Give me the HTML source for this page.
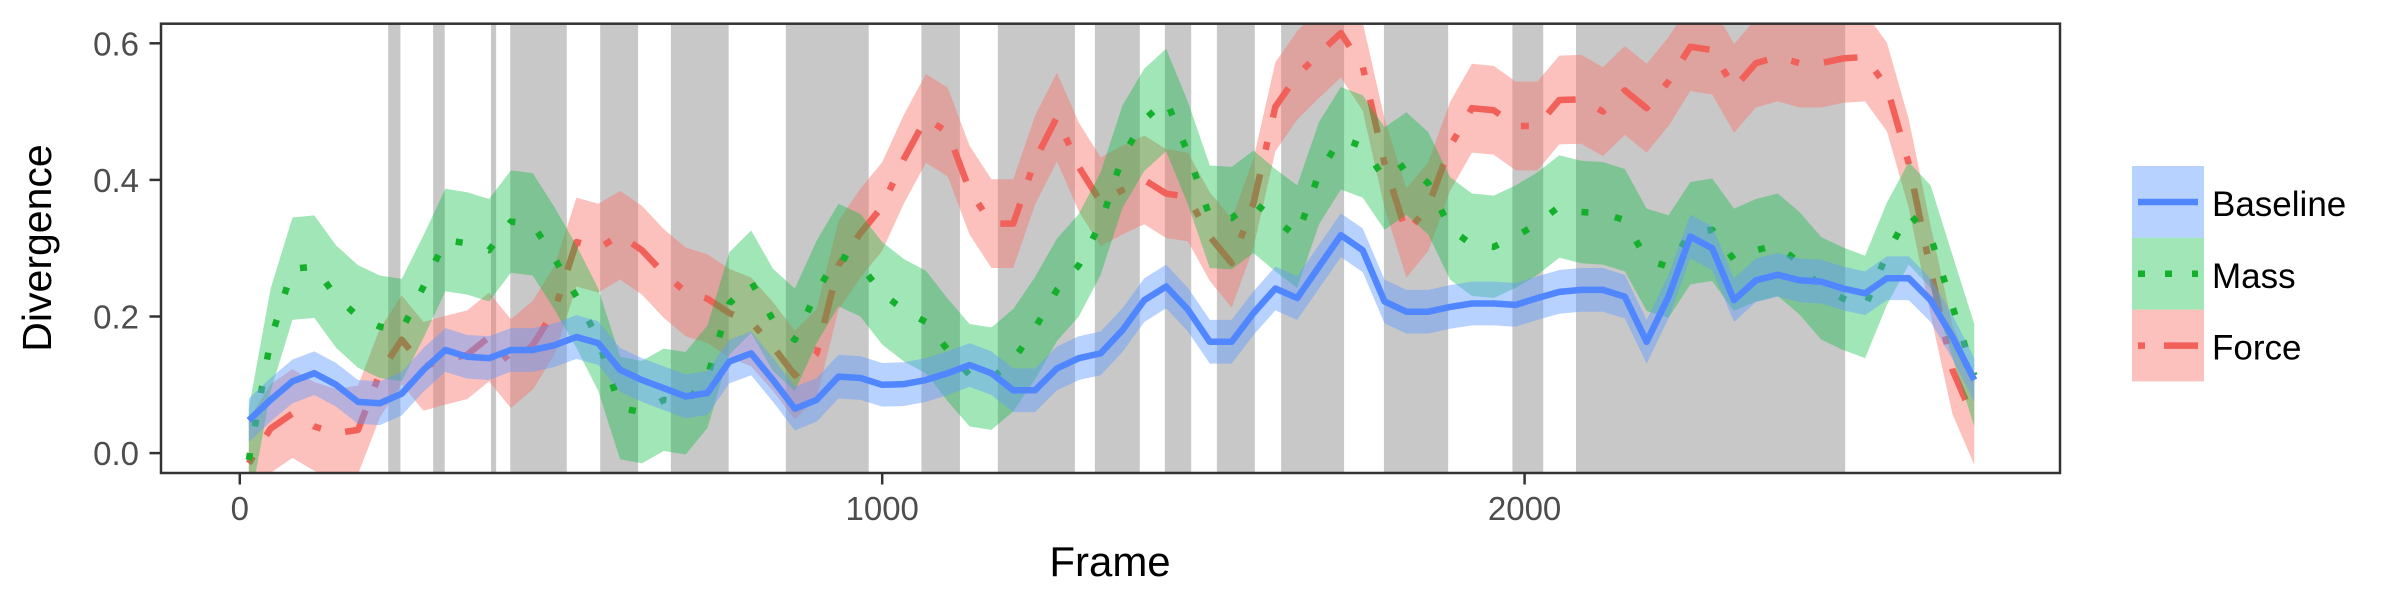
<!DOCTYPE html>
<html><head><meta charset="utf-8">
<style>
html,body{margin:0;padding:0;background:#fff;}
svg{display:block;font-family:"Liberation Sans",Arial,sans-serif;}
</style></head>
<body>
<svg id="chart" width="2400" height="600" viewBox="0 0 2400 600" xmlns="http://www.w3.org/2000/svg">
<defs><clipPath id="clip"><rect x="161" y="23.7" width="1899" height="449.3"/></clipPath></defs>
<rect x="0" y="0" width="2400" height="600" fill="#fff"/>
<g id="plot" clip-path="url(#clip)"></g>
<rect x="161" y="23.7" width="1899" height="449.3" fill="none" stroke="#333" stroke-width="2.5"/>
<g id="axes"></g>
<text x="1110" y="576" font-size="42" text-anchor="middle" fill="#000">Frame</text>
<text transform="translate(51,248) rotate(-90)" font-size="41" text-anchor="middle" fill="#000">Divergence</text>
<g id="legend"></g>
</svg>
<script>
const frames = [14,48,82,116,150,184,218,252,286,320,354,388,422,456,490,524,558,592,626,660,694,728,762,796,830,864,898,932,966,1000,1034,1068,1102,1136,1170,1204,1238,1272,1306,1340,1374,1408,1442,1476,1510,1544,1578,1612,1646,1680,1714,1748,1782,1816,1850,1884,1918,1952,1986,2020,2054,2088,2122,2156,2190,2224,2258,2292,2326,2360,2394,2428,2462,2496,2530,2564,2598,2632,2666,2700];
const baseline = [.048,.078,.105,.117,.100,.075,.073,.087,.122,.151,.141,.139,.151,.151,.158,.170,.161,.122,.107,.095,.083,
.088,.134,.146,.107,.065,.078,.112,.110,.100,.101,.107,.117,.129,.117,.092,.092,.124,.139,.146,.180,
.224,.244,.210,.163,.163,.205,.241,.227,.273,.319,.297,.222,.207,.207,.214,.219,.219,.217,.227,.236,
.239,.239,.229,.163,.229,.317,.300,.224,.253,.261,.253,.251,.241,.234,.256,.256,.224,.170,.107];
const mass = [-.01,.166,.27,.273,.229,.20,.185,.18,.244,.312,.307,.297,.339,.335,.285,.229,.166,.066,.06,.078,.073,
.112,.219,.251,.195,.166,.236,.29,.275,.234,.209,.192,.151,.114,.109,.136,.183,.239,.275,.336,.434,
.488,.517,.439,.346,.344,.368,.341,.317,.41,.461,.449,.402,.424,.395,.329,.305,.302,.317,.336,.361,
.353,.351,.341,.283,.273,.322,.327,.283,.297,.305,.278,.241,.226,.214,.292,.351,.317,.215,.114];
const force = [-.015,.036,.058,.039,.029,.034,.117,.166,.127,.136,.144,.170,.131,.158,.209,.309,.30,.319,.297,.263,.236,
.226,.205,.192,.156,.114,.146,.275,.322,.361,.431,.49,.47,.385,.336,.336,.429,.492,.419,.368,.385,
.40,.38,.375,.317,.278,.366,.507,.553,.585,.615,.566,.424,.322,.361,.449,.505,.502,.479,.479,.517,
.518,.50,.531,.505,.544,.595,.59,.534,.571,.58,.571,.571,.578,.58,.536,.424,.268,.122,.048];
const seBaseline = 0.032;
const seMass = 0.075;
const seForce = 0.065;
const bandStarts = [231,301,391,421,561,671,850,1061,1180,1331,1440,1521,1621,1781,1981,2080];
const bandEnds   = [250,319,399,509,620,761,979,1121,1300,1401,1481,1580,1719,1881,2029,2499];
const xTicks = [0,1000,2000];
const xTickLabels = ["0","1000","2000"];
const yTicks = [0,0.2,0.4,0.6];
const yTickLabels = ["0.0","0.2","0.4","0.6"];
const seriesNames = ["Baseline","Mass","Force"];

const NS = "http://www.w3.org/2000/svg";
function xs(f){return 239.8 + f*0.6424;}
function ys(v){return 453.1 - v*683;}
function mk(tag, attrs, parent){const e=document.createElementNS(NS,tag);for(const k in attrs)e.setAttribute(k,attrs[k]);parent.appendChild(e);return e;}

const plot = document.getElementById('plot');
for(let i=0;i<bandStarts.length;i++){
  const r = mk('rect',{x:xs(bandStarts[i]),y:20,width:xs(bandEnds[i])-xs(bandStarts[i]),height:460,fill:'#c8c8c8'},plot);
  
  
}
const styles = {
  Force:{vals:force,se:seForce,fill:'#F8766D',op:0.45,stroke:'#F2605A',dash:'8 25 34 25'},
  Mass:{vals:mass,se:seMass,fill:'#00BA38',op:0.37,stroke:'#14B02C',dash:'7 27'},
  Baseline:{vals:baseline,se:seBaseline,fill:'#619CFF',op:0.45,stroke:'#5086FF',dash:'none'}
};
["Force","Mass","Baseline"].forEach(name=>{
  const s=styles[name];
  let up=[],lo=[];
  for(let i=0;i<frames.length;i++){up.push(xs(frames[i])+','+ys(s.vals[i]+s.se));lo.unshift(xs(frames[i])+','+ys(s.vals[i]-s.se));}
  const rib = mk('polygon',{points:up.concat(lo).join(' '),fill:s.fill,'fill-opacity':s.op},plot);
  
  
  const pts = frames.map((f,i)=>xs(f)+','+ys(s.vals[i])).join(' ');
  const ln = mk('polyline',{points:pts,fill:'none',stroke:s.stroke,'stroke-width':6.5,'stroke-linejoin':'round','stroke-dasharray':s.dash},plot);
  
  
});

const axes=document.getElementById('axes');
yTicks.forEach((v,i)=>{
  const t=mk('line',{x1:149.5,x2:161,y1:ys(v),y2:ys(v),stroke:'#333','stroke-width':2.5},axes);
  
  
  const l=mk('text',{x:139,y:ys(v)+12,'font-size':33,'text-anchor':'end',fill:'#4d4d4d'},axes);
  l.textContent=yTickLabels[i];
  
  
});
xTicks.forEach((f,i)=>{
  const t=mk('line',{x1:xs(f),x2:xs(f),y1:473,y2:484.5,stroke:'#333','stroke-width':2.5},axes);
  
  
  const l=mk('text',{x:xs(f),y:520,'font-size':33,'text-anchor':'middle',fill:'#4d4d4d'},axes);
  l.textContent=xTickLabels[i];
  
  
});

const leg=document.getElementById('legend');
seriesNames.forEach((name,i)=>{
  const s=styles[name];
  const y0=166+i*71.8;
  const g=mk('g',{},leg);
  
  
  mk('rect',{x:2132,y:y0,width:72,height:71.8,fill:s.fill,'fill-opacity':s.op},g);
  mk('line',{x1:2138,x2:2198,y1:y0+36,y2:y0+36,stroke:s.stroke,'stroke-width':6.5,'stroke-dasharray':name==='Baseline'?'none':(name==='Mass'?'7 20':'7 19 34 25')},g);
  const t=mk('text',{x:2212,y:y0+50,'font-size':35,fill:'#000'},g);
  t.textContent=name;
});
</script>
</body></html>
